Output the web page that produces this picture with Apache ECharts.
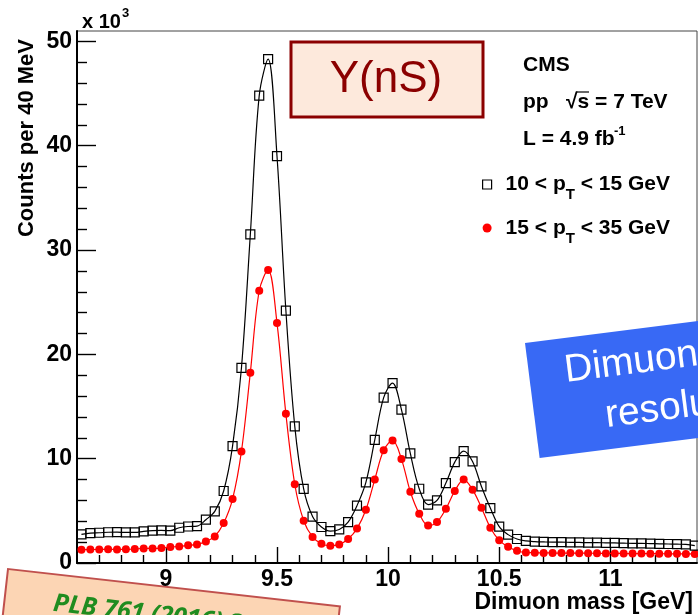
<!DOCTYPE html>
<html>
<head>
<meta charset="utf-8">
<script src="https://cdn.jsdelivr.net/npm/echarts@6/dist/echarts.min.js"></script>
<style>
  html, body { margin: 0; padding: 0; background: #fff; }
  #chart { width: 698px; height: 615px; }
</style>
</head>
<body>
<div id="chart"></div>
<script>
// Dimuon invariant-mass spectrum in the Upsilon region, two pT bins (counts in units of 10^3 per 40 MeV)
const massGeV = [
  8.62, 8.66, 8.70, 8.74, 8.78, 8.82, 8.86, 8.90, 8.94, 8.98,
  9.02, 9.06, 9.10, 9.14, 9.18, 9.22, 9.26, 9.30, 9.34, 9.38,
  9.42, 9.46, 9.50, 9.54, 9.58, 9.62, 9.66, 9.70, 9.74, 9.78,
  9.82, 9.86, 9.90, 9.94, 9.98, 10.02, 10.06, 10.10, 10.14, 10.18,
  10.22, 10.26, 10.30, 10.34, 10.38, 10.42, 10.46, 10.50, 10.54, 10.58,
  10.62, 10.66, 10.70, 10.74, 10.78, 10.82, 10.86, 10.90, 10.94, 10.98,
  11.02, 11.06, 11.10, 11.14, 11.18, 11.22, 11.26, 11.30, 11.34, 11.38
];

// 10 < pT < 15 GeV
const countsLowPt = [
  2.75, 2.87, 2.90, 2.95, 2.96, 2.93, 2.93, 3.03, 3.10, 3.12,
  3.10, 3.38, 3.50, 3.54, 4.15, 4.95, 6.90, 11.2, 18.7, 31.5,
  44.8, 48.3, 39.0, 24.2, 13.1, 7.10, 4.45, 3.45, 3.06, 3.22,
  3.92, 5.50, 7.73, 11.8, 15.85, 17.25, 14.7, 10.5, 7.12, 5.60,
  6.00, 7.66, 9.67, 10.73, 9.74, 7.34, 5.27, 3.48, 2.72, 2.30,
  2.12, 2.05, 2.02, 2.00, 2.00, 1.98, 1.97, 1.95, 1.95, 1.93,
  1.92, 1.90, 1.88, 1.88, 1.86, 1.84, 1.82, 1.80, 1.78, 1.66
];

// 15 < pT < 35 GeV
const countsHighPt = [
  1.27, 1.29, 1.30, 1.33, 1.30, 1.31, 1.34, 1.40, 1.40, 1.43,
  1.53, 1.59, 1.69, 1.78, 2.05, 2.55, 3.83, 6.13, 10.7, 18.25,
  26.1, 28.1, 23.0, 14.3, 7.55, 4.05, 2.50, 1.85, 1.66, 1.78,
  2.30, 3.30, 5.10, 8.00, 10.8, 11.75, 9.96, 6.83, 4.73, 3.60,
  3.92, 5.20, 6.90, 8.00, 7.03, 5.30, 3.38, 2.17, 1.56, 1.17,
  1.00, 0.99, 0.97, 0.96, 0.95, 0.95, 0.94, 0.94, 0.93, 0.92,
  0.92, 0.91, 0.90, 0.90, 0.89, 0.89, 0.88, 0.88, 0.87, 0.86
];

const seriesNames = ['10 < pT < 15 GeV', '15 < pT < 35 GeV'];

const xRange = [8.6, 11.39];
const xMajorTicks = [9, 9.5, 10, 10.5, 11];
const xMinorTicks = [8.7, 8.8, 8.9, 9.1, 9.2, 9.3, 9.4, 9.6, 9.7, 9.8, 9.9,
                     10.1, 10.2, 10.3, 10.4, 10.6, 10.7, 10.8, 10.9, 11.1, 11.2, 11.3];
const yRange = [0, 51];
const yMajorTicks = [0, 10, 20, 30, 40, 50];
const yMinorTicks = [2, 4, 6, 8, 12, 14, 16, 18, 22, 24, 26, 28, 32, 34, 36, 38, 42, 44, 46, 48];

const FONT = '"Liberation Sans", Helvetica, Arial, sans-serif';
const chart = echarts.init(document.getElementById('chart'), null, { renderer: 'canvas' });

const tickLine = { color: '#000', width: 1.4 };

function valueAxis(range, ticks, len, withLabels, labelOpts) {
  return {
    type: 'value',
    min: range[0],
    max: range[1],
    axisLine: withLabels ? { show: true, onZero: false, lineStyle: { color: '#000', width: 2 } } : { show: false },
    axisTick: { show: true, inside: true, length: len, customValues: ticks, lineStyle: tickLine },
    axisLabel: withLabels ? Object.assign({
      show: true, customValues: ticks, color: '#000',
      fontFamily: FONT, fontWeight: 'bold', fontSize: 23
    }, labelOpts) : { show: false },
    splitLine: { show: false }
  };
}

const xMain = valueAxis(xRange, xMajorTicks, 16, true, { margin: 5 });
xMain.position = 'bottom';
const xMinor = valueAxis(xRange, xMinorTicks, 8, false);
xMinor.position = 'bottom';
const yMain = valueAxis(yRange, yMajorTicks, 19, true, { margin: 5 });
yMain.position = 'left';
const yMinor = valueAxis(yRange, yMinorTicks, 10, false);
yMinor.position = 'left';

function legendLabel(name) {
  const parts = name.split('pT');
  return '{f|' + parts[0] + 'p}{s|T}{a|' + parts[1] + '}';
}

const option = {
  animation: false,
  backgroundColor: '#fff',
  grid: { left: 77, right: 1, top: 31, bottom: 52, show: true, borderColor: '#444', borderWidth: 1 },
  xAxis: [xMain, xMinor],
  yAxis: [yMain, yMinor],
  legend: {
    orient: 'vertical',
    left: 482,
    top: 174,
    padding: 0,
    itemGap: 15,
    itemWidth: 9,
    itemHeight: 9,
    selectedMode: false,
    data: [
      { name: seriesNames[0], icon: 'rect', itemStyle: { color: '#fff', borderColor: '#000', borderWidth: 1.2 } },
      { name: seriesNames[1], icon: 'circle', itemStyle: { color: '#ff0000' } }
    ],
    formatter: legendLabel,
    textStyle: {
      rich: {
        f: { fontFamily: FONT, fontWeight: 'bold', fontSize: 21, color: '#000', lineHeight: 36, padding: [0, 0, 0, 9] },
        a: { fontFamily: FONT, fontWeight: 'bold', fontSize: 21, color: '#000', lineHeight: 36 },
        s: { fontFamily: FONT, fontWeight: 'bold', fontSize: 15, color: '#000', verticalAlign: 'bottom', lineHeight: 10 }
      }
    }
  },
  series: [
    {
      name: seriesNames[1],
      type: 'line',
      xAxisIndex: 0, yAxisIndex: 0,
      data: massGeV.map((m, i) => [m, countsHighPt[i]]),
      smooth: 0.35,
      symbol: 'circle',
      symbolSize: 8,
      itemStyle: { color: '#ff0000' },
      lineStyle: { color: '#ff0000', width: 1.2 },
      z: 3
    },
    {
      name: seriesNames[0],
      type: 'line',
      xAxisIndex: 0, yAxisIndex: 0,
      data: massGeV.map((m, i) => [m, countsLowPt[i]]),
      smooth: 0.35,
      symbol: 'rect',
      symbolSize: 9,
      itemStyle: { color: 'rgba(255,255,255,0)', borderColor: '#000', borderWidth: 1.2 },
      lineStyle: { color: '#000', width: 1.2 },
      z: 4
    }
  ],
  graphic: [
    // axis multiplier
    { type: 'text', x: 82, y: 22, style: { text: 'x 10', font: 'bold 20px ' + FONT, fill: '#000', textVerticalAlign: 'middle' } },
    { type: 'text', x: 122, y: 13, style: { text: '3', font: 'bold 13px ' + FONT, fill: '#000', textVerticalAlign: 'middle' } },
    // axis titles
    { type: 'text', x: 27, y: 138, rotation: Math.PI / 2,
      style: { text: 'Counts per 40 MeV', font: 'bold 22px ' + FONT, fill: '#000', textAlign: 'center', textVerticalAlign: 'middle' } },
    { type: 'text', x: 693, y: 603,
      style: { text: 'Dimuon mass [GeV]', font: 'bold 23px ' + FONT, fill: '#000', textAlign: 'right', textVerticalAlign: 'middle' } },
    // Upsilon tag
    { type: 'rect', shape: { x: 291, y: 42, width: 192, height: 75 },
      style: { fill: '#fde9dc', stroke: '#8b0000', lineWidth: 3 }, z: 10 },
    { type: 'text', x: 386, y: 80, z: 11,
      style: { text: 'Y(nS)', font: '44px ' + FONT, fill: '#8b0000', textAlign: 'center', textVerticalAlign: 'middle' } },
    // experiment info
    { type: 'text', x: 523, y: 65, style: { text: 'CMS', font: 'bold 21px ' + FONT, fill: '#000', textVerticalAlign: 'middle' } },
    { type: 'text', x: 523, y: 102, style: { text: 'pp', font: 'bold 21px ' + FONT, fill: '#000', textVerticalAlign: 'middle' } },
    { type: 'text', x: 566, y: 102, style: { text: '\u221As = 7 TeV', font: 'bold 21px ' + FONT, fill: '#000', textVerticalAlign: 'middle' } },
    { type: 'line', shape: { x1: 576, y1: 92, x2: 589, y2: 92 }, style: { stroke: '#000', lineWidth: 1.2 } },
    { type: 'text', x: 523, y: 139, style: { text: 'L = 4.9 fb', font: 'bold 21px ' + FONT, fill: '#000', textVerticalAlign: 'middle' } },
    { type: 'text', x: 614, y: 131, style: { text: '-1', font: 'bold 13px ' + FONT, fill: '#000', textVerticalAlign: 'middle' } },
    // resolution callout
    { type: 'group', x: 525, y: 343, rotation: 0.1265, z: 20, children: [
      { type: 'rect', shape: { x: 0, y: 0, width: 310, height: 116 }, style: { fill: '#3869f5' } },
      { type: 'text', x: 155, y: 58,
        style: { text: 'Dimuon mass\nresolution', font: '39px ' + FONT, fill: '#fff', textAlign: 'center', textVerticalAlign: 'middle', lineHeight: 50 } }
    ] },
    // reference callout
    { type: 'group', x: 8, y: 569, rotation: -0.112, z: 20, children: [
      { type: 'rect', shape: { x: 0, y: 0, width: 334, height: 90 }, style: { fill: '#fcd5b4', stroke: '#c0504d', lineWidth: 2 } },
      { type: 'text', x: 49, y: 17,
        style: { text: 'PLB 761 (2016) 31', font: 'italic bold 25px "Noto Sans", "DejaVu Sans", sans-serif', fill: '#1f8c1f', textVerticalAlign: 'top' } }
    ] }
  ]
};

chart.setOption(option);
</script>
</body>
</html>
